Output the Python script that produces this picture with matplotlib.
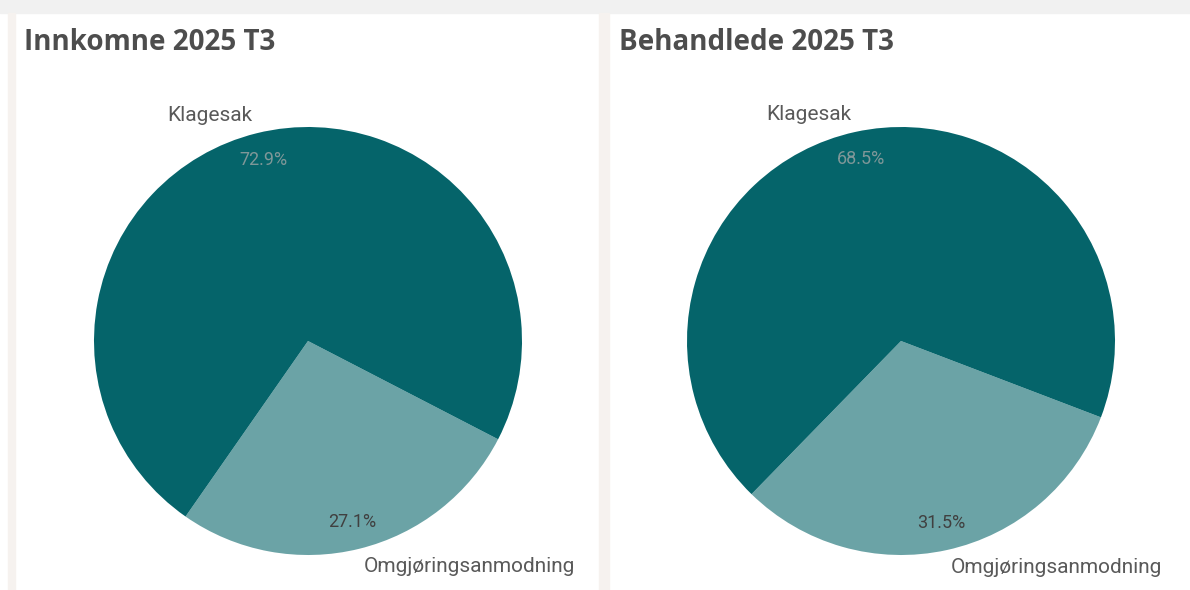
import matplotlib
matplotlib.use("Agg")
import matplotlib.pyplot as plt
from matplotlib.patches import Rectangle

# data
categories = ["Omgjøringsanmodning", "Klagesak"]
innkomne = [27.1, 72.9]
behandlede = [31.5, 68.5]
titles = ["Innkomne 2025 T3", "Behandlede 2025 T3"]

colors = ["#6ba3a6", "#05646a"]
pct_colors = ["#404040", "#7f9798"]

W, H = 1190, 590
fig = plt.figure(figsize=(W / 100, H / 100), dpi=100)
fig.patch.set_facecolor("white")

# page chrome: grey strip on top, beige gutters between panels
def px_rect(x0, y0, x1, y1, color):
    fig.patches.append(Rectangle((x0 / W, 1 - y1 / H), (x1 - x0) / W, (y1 - y0) / H,
                                 transform=fig.transFigure, color=color, zorder=0))

px_rect(0, 0, W, 13, "#f1f1f1")
px_rect(8, 13, 15, H, "#f6f2ef")
px_rect(599, 13, 609, H, "#f6f2ef")


def draw_pie(cx, cy, r, values, startangle, title, tx):
    ax = fig.add_axes([(cx - r) / W, 1 - (cy + r) / H, 2 * r / W, 2 * r / H])
    wedges, texts, autotexts = ax.pie(
        values, labels=categories, colors=colors, startangle=startangle,
        counterclock=True, autopct="%.1f%%", pctdistance=0.87,
        labeldistance=1.085, radius=1.0,
        wedgeprops=dict(linewidth=0),
        textprops=dict(family="Roboto", fontsize=15, color="#595959"))
    for t, c in zip(autotexts, pct_colors):
        t.set_color(c)
        t.set_fontsize(13)
    ax.set_xlim(-1, 1)
    ax.set_ylim(-1, 1)
    ax.set_aspect("equal")
    ax.axis("off")
    fig.text(tx / W, 1 - 42 / H, title, family="Open Sans", fontweight="bold",
             fontsize=20, color="#4d4d4d", ha="left", va="center")


draw_pie(308, 341, 214, innkomne, -124.9, titles[0], 24)
draw_pie(901, 341, 214, behandlede, -134.3, titles[1], 619)

fig.savefig("out.png", dpi=100)
